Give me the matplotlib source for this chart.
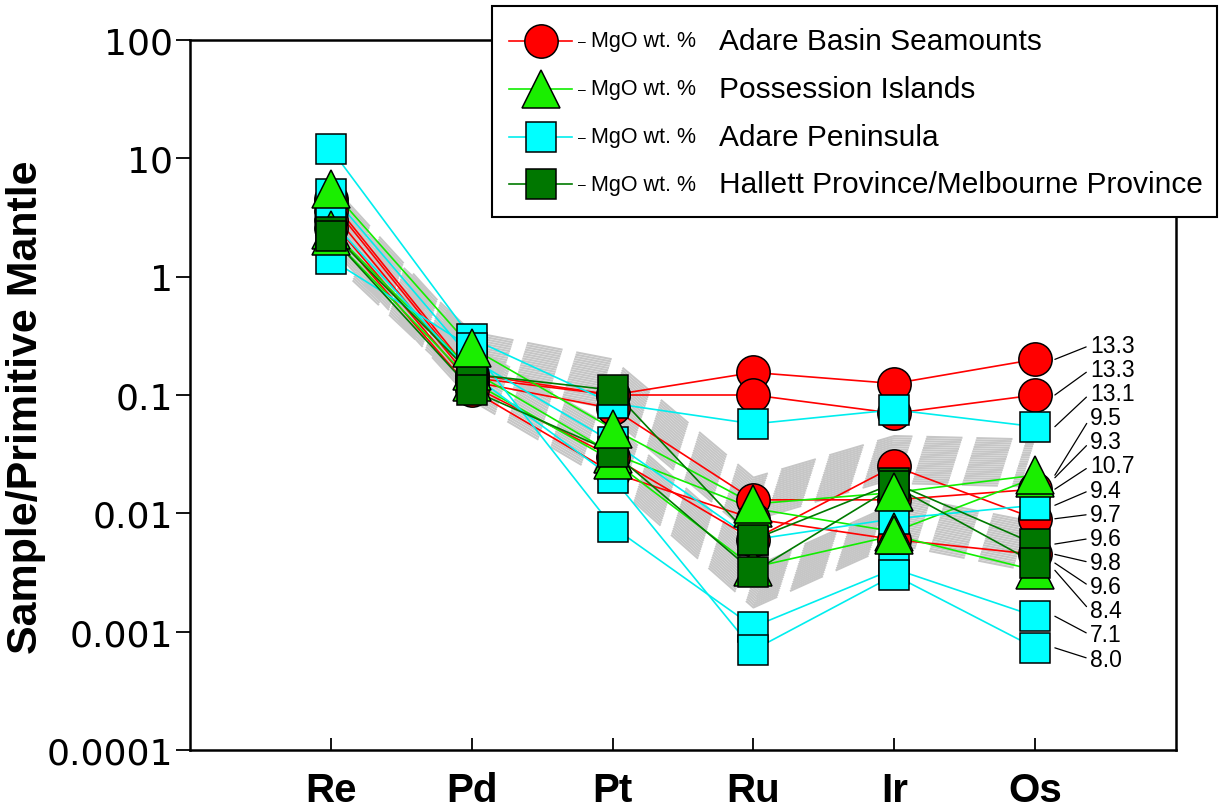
import numpy as np
import matplotlib
matplotlib.use("Agg")
import matplotlib.pyplot as plt
import matplotlib.patheffects as pe
from matplotlib.lines import Line2D
from matplotlib.patches import Rectangle
from matplotlib.ticker import NullLocator

plt.rcParams.update({
    "font.family": ["Liberation Sans", "DejaVu Sans"],
    "lines.scale_dashes": False,
})

elements = ["Re", "Pd", "Pt", "Ru", "Ir", "Os"]

# Adare Basin Seamounts (red circles), values Re..Os
abs_mgo = [13.3, 13.3, 10.7, 9.7, 9.8]
abs_vals = [
    [4.5, 0.15, 0.10, 0.155, 0.125, 0.20],
    [4.2, 0.14, 0.10, 0.10, 0.07, 0.10],
    [3.6, 0.13, 0.077, 0.013, 0.013, 0.016],
    [3.0, 0.12, 0.030, 0.006, 0.025, 0.009],
    [2.6, 0.11, 0.022, 0.009, 0.006, 0.0045],
]

# Possession Islands (green triangles)
pos_mgo = [9.5, 9.3, 8.4]
pos_vals = [
    [5.5, 0.25, 0.052, 0.012, 0.015, 0.021],
    [2.5, 0.16, 0.032, 0.011, 0.007, 0.020],
    [2.2, 0.13, 0.028, 0.0035, 0.0065, 0.0033],
]

# Adare Peninsula (cyan squares)
pen_mgo = [13.1, 9.4, 7.1, 8.0]
pen_vals = [
    [12.0, 0.30, 0.085, 0.057, 0.075, 0.054],
    [5.0, 0.20, 0.040, 0.006, 0.009, 0.0117],
    [1.4, 0.25, 0.0077, 0.0011, 0.0034, 0.00135],
    [3.0, 0.15, 0.020, 0.0007, 0.003, 0.00073],
]

# Hallett Province/Melbourne Province (dark green squares)
hal_mgo = [9.6, 9.6]
hal_vals = [
    [2.4, 0.15, 0.11, 0.006, 0.018, 0.0055],
    [2.2, 0.11, 0.033, 0.0032, 0.017, 0.0038],
]

# grey field (upper and lower edge)
band_upper = [4.5, 0.34, 0.20, 0.020, 0.045, 0.042]
band_lower = [1.8, 0.09, 0.018, 0.0016, 0.0055, 0.0032]

groups = [
    # name, values, mgo, line colour, face colour, marker, size
    ("Adare Basin Seamounts", abs_vals, abs_mgo, "#ff0000", "#ff0000", "o", 24),
    ("Possession Islands", pos_vals, pos_mgo, "#11ee00", "#1aee00", "^", 27),
    ("Adare Peninsula", pen_vals, pen_mgo, "#00eeee", "#00ffff", "s", 21.5),
    ("Hallett Province/Melbourne Province", hal_vals, hal_mgo, "#007a00", "#007700", "s", 21.5),
]
# marker stacking: red, cyan, green, dark green; first green series on top
group_z = [3, 5, 4, 6]

W, H = 1221, 812
fig = plt.figure(figsize=(W / 100, H / 100), dpi=100)
ax = fig.add_axes([190 / W, 61 / H, 986 / W, 710 / H])
x = np.arange(1, 7)

# hatched dashed field: each edge drawn as a stack of offset dashed strokes
grey = "#c6c6c6"
up_fx = [pe.Stroke(offset=(-0.5 * k, -1.6 * k)) for k in range(22)]
lo_fx = [pe.Stroke(offset=(0.5 * k, 1.6 * k)) for k in range(22)]
ax.plot(x, band_upper, color=grey, lw=1.5, dashes=(26, 10), path_effects=up_fx, zorder=1)
ax.plot(x, band_lower, color=grey, lw=1.5, dashes=(26, 10), path_effects=lo_fx, zorder=1)

# lines
for name, vals, mgo, lc, fc, mk, ms in groups:
    for v in vals:
        ax.plot(x, v, color=lc, lw=1.2, zorder=2)

# markers
for (name, vals, mgo, lc, fc, mk, ms), z in zip(groups, group_z):
    for j, v in enumerate(vals):
        zz = 7 if (mk == "^" and j == 0) else z
        ax.plot(x, v, ls="none", marker=mk, ms=ms, mfc=fc, mec="black", mew=1.1, zorder=zz)

# MgO labels next to Os
os_pts = []
for name, vals, mgo, lc, fc, mk, ms in groups:
    for v, m in zip(vals, mgo):
        os_pts.append((v[-1], m))
os_pts.sort(key=lambda p: -p[0])
label_y = np.linspace(0.570, 0.128, len(os_pts))
for (val, m), ly in zip(os_pts, label_y):
    ax.annotate(f"{m:.1f}", xy=(6.14, val), xycoords="data",
                xytext=(0.913, ly), textcoords="axes fraction",
                ha="left", va="center", fontsize=16.5,
                arrowprops=dict(arrowstyle="-", lw=0.9, color="black",
                                shrinkA=1, shrinkB=0, relpos=(0, 0.5)))

ax.set_yscale("log")
ax.set_ylim(1e-4, 100)
ax.set_xlim(0, 7)
ax.set_xticks(x)
ax.set_xticklabels(elements, fontsize=29, fontweight="bold")
ax.tick_params(axis="x", direction="in", length=9, width=1.3, pad=15)
yt = [1e-4, 1e-3, 1e-2, 1e-1, 1, 10, 100]
ax.set_yticks(yt)
ax.set_yticklabels(["0.0001", "0.001", "0.01", "0.1", "1", "10", "100"],
                   fontsize=26, family="DejaVu Sans")
ax.yaxis.set_minor_locator(NullLocator())
ax.tick_params(axis="y", direction="out", length=10, width=1.3, pad=2)
for s in ax.spines.values():
    s.set_linewidth(1.8)
ax.set_ylabel("Sample/Primitive Mantle", fontsize=31, fontweight="bold")
ax.yaxis.set_label_coords(-0.146, 0.4845)

# legend box drawn by hand
def fx(px):
    return px / W

def fy(py):
    return 1 - py / H

fig.add_artist(Rectangle((fx(492), fy(218)), (1217 - 492) / W, (218 - 7) / H,
                         transform=fig.transFigure, facecolor="white",
                         edgecolor="black", lw=1.5, zorder=10))
row_y = [42, 90, 138, 185]
for (name, vals, mgo, lc, fc, mk, ms), ry in zip(groups, row_y):
    fig.add_artist(Line2D([fx(509), fx(572)], [fy(ry), fy(ry)], color=lc, lw=1.2,
                          transform=fig.transFigure, zorder=11))
    fig.add_artist(Line2D([fx(541)], [fy(ry)], ls="none", marker=mk, ms=ms, mfc=fc,
                          mec="black", mew=1.1, transform=fig.transFigure, zorder=12))
    fig.text(fx(578), fy(ry), "\u2013", fontsize=10, va="center", ha="left", zorder=12)
    fig.text(fx(591), fy(ry), "MgO wt. %", fontsize=15.5, va="center", ha="left", zorder=12)
    fig.text(fx(719), fy(ry), name, fontsize=21.5, va="center", ha="left", zorder=12)

fig.savefig("out.png", dpi=100)
